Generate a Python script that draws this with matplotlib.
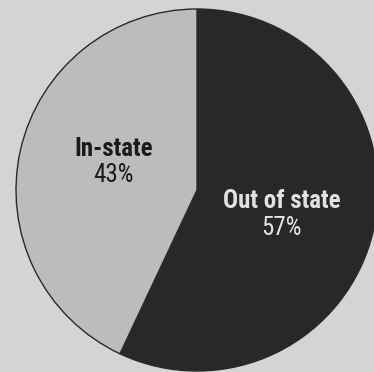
import matplotlib
matplotlib.use("Agg")
import matplotlib.pyplot as plt

# Data
labels = ["Out of state", "In-state"]
shares = [57, 43]
colors = ["#282828", "#bcbcbc"]
text_colors = ["#e2e2e2", "#1a1a1a"]

plt.rcParams['font.family'] = ['Roboto Condensed', 'Roboto', 'DejaVu Sans']

fig = plt.figure(figsize=(3.74, 3.72), dpi=100)
fig.patch.set_facecolor("#d4d4d4")
ax = fig.add_axes([0, 0, 1, 1])

ax.pie(shares, colors=colors, startangle=90, counterclock=False,
       center=(197, 182), radius=181, frame=True,
       wedgeprops=dict(edgecolor="#2a2a2a", linewidth=1.0))
ax.set_xlim(0, 374)
ax.set_ylim(0, 372)
ax.set_aspect("equal")
ax.axis("off")

# label positions (pixels, y measured up): name, then percentage below
pos = {"Out of state": (282, 171, 144), "In-state": (114, 223, 197)}
for lab, val, tc in zip(labels, shares, text_colors):
    x, y1, y2 = pos[lab]
    ax.text(x, y1, lab, ha="center", va="center", color=tc,
            fontsize=18, fontweight="bold")
    ax.text(x, y2, f"{val}%", ha="center", va="center", color=tc,
            fontsize=18)

fig.savefig("out.png", dpi=100, facecolor=fig.get_facecolor())
